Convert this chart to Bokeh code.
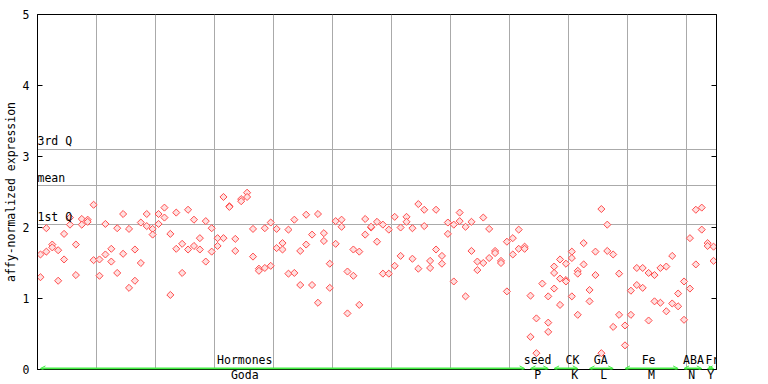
import math
from bokeh.plotting import figure
from bokeh.models import Range1d, FixedTicker, LinearAxis, Arrow, OpenHead
from bokeh.core.properties import value
from bokeh.embed import file_html
from bokeh.resources import INLINE

# ---- data: replicate expression values per sample, by treatment group ----
hormones = [
    [1.62, 1.30], [1.99, 1.66], [1.76, 1.72], [1.68, 1.25], [1.91, 1.55],
    [2.14, 2.04], [1.76, 1.33], [2.12, 2.04], [2.11, 2.08], [2.32, 1.54],
    [1.55, 1.32], [2.05, 1.62], [1.70, 1.52], [1.99, 1.36], [2.19, 1.63],
    [1.98, 1.15], [1.69, 1.25], [2.07, 1.50], [2.19, 2.02], [1.98, 1.90],
    [2.19, 2.05], [2.28, 2.14], [1.91, 1.05], [2.21, 1.70], [1.77, 1.36],
    [2.25, 1.69], [2.11, 1.74], [1.85, 1.69], [2.09, 1.52], [1.99, 1.66],
    [1.85, 1.74], [2.43, 1.85], [2.30, 2.29], [1.84, 1.67], [2.40, 2.37],
    [2.49, 2.43], [1.98, 1.59], [1.42, 1.39], [1.99, 1.43], [2.07, 1.46],
    [1.98, 1.71], [1.78, 1.69], [1.97, 1.35], [2.11, 1.36], [1.67, 1.19],
    [2.18, 1.76], [1.90, 1.19], [2.19, 0.94], [1.92, 1.81], [1.49, 1.15],
    [2.09, 1.77], [2.11, 2.01], [1.38, 0.79], [1.69, 1.32], [1.66, 0.91],
    [2.12, 1.90], [2.00, 2.01], [2.08, 1.80], [2.04, 1.35], [1.97, 1.35],
    [2.15, 1.46], [2.00, 1.60], [2.15, 2.08], [1.99, 1.56], [2.33, 1.42],
    [2.25, 2.02], [1.53, 1.43], [2.25, 1.69], [1.60, 1.49], [2.07, 1.91],
    [2.04, 1.24], [2.21, 2.09], [2.01, 1.03], [2.08, 1.67], [1.52, 1.40],
    [2.14, 1.50], [1.98, 1.57], [1.67, 1.64], [1.53, 1.50], [1.80, 1.10],
    [1.85, 1.62], [1.97, 1.70],
]
seed = [[1.73, 1.70], [1.04, 0.46], [0.72, 0.23], [1.21], [1.03, 0.66, 0.53]]
ck = [[1.45, 1.36, 1.14], [1.55, 1.28, 0.91], [1.49, 1.26, 1.24],
      [1.66, 1.57, 1.03], [1.39, 1.35, 0.77]]
ga = [[1.78, 1.48], [1.12, 0.96], [1.66, 1.33], [2.26, 0.23], [2.04, 1.67], [1.62, 0.60]]
fe = [[1.35, 0.77], [0.62, 0.34], [1.11, 0.77], [1.43, 1.19], [1.43, 1.15],
      [1.36, 0.69], [1.33, 0.96], [1.43, 0.94], [1.45, 0.82], [1.60, 0.93], [1.07, 0.89]]
aba = [[1.24, 0.70], [1.85, 1.14], [2.25, 1.48], [2.28, 1.97]]
fr = [[1.78, 1.74], [1.73, 1.53]]

group_names = ["Hormones", "seed", "CK", "GA", "Fe", "ABA", "Fr"]
group_codes = ["Goda", "P", "K", "L", "M", "N", "Y"]
group_name_x = [34.6, 84.2, 90.1, 94.9, 103.0, 110.6, 113.8]
group_code_x = [34.6, 84.2, 90.5, 95.4, 103.5, 110.3, 113.5]
span_start = [0, 83, 87, 93, 99, 109, 113]
span_end = [82, 86, 91, 97, 108, 112, 114]

quartile_values = [3.10, 2.585, 2.04]
quartile_labels = ["3rd Q", "mean", "1st Q"]
y_ticks = [0, 1, 2, 3, 4, 5]
x_grid = [9.5, 19.5, 29.5, 39.5, 49.5, 59.5, 69.5, 79.5, 89.5, 99.5, 109.5]

# ---- flatten samples ----
xs, ys = [], []
idx = 0
for grp in [hormones, seed, ck, ga, fe, aba, fr]:
    for reps in grp:
        for v in reps:
            xs.append(idx)
            ys.append(v)
        idx += 1
n_samples = idx

FONT = "DejaVu Sans Mono"
FS = "11.5px"
GREEN = "#44ee44"

p = figure(width=768, height=384, output_backend="svg", toolbar_location=None,
           x_range=Range1d(-0.5, n_samples - 0.5), y_range=Range1d(0, 5),
           min_border_left=37, min_border_right=52, min_border_top=14,
           min_border_bottom=15)
p.background_fill_color = "white"
p.border_fill_color = "white"
p.outline_line_color = "black"
p.outline_line_width = 1

# y axis (left)
ya = p.yaxis[0]
ya.ticker = FixedTicker(ticks=y_ticks)
ya.major_tick_in = 5
ya.major_tick_out = 0
ya.minor_tick_line_color = None
ya.major_label_standoff = 8
ya.major_label_text_font = FONT
ya.major_label_text_font_size = FS
ya.major_label_text_color = "black"
ya.axis_line_color = "black"
ya.major_tick_line_color = "black"
ya.axis_label = "affy-normalized expression"
ya.axis_label_standoff = 2
ya.axis_label_text_font = FONT
ya.axis_label_text_font_size = FS
ya.axis_label_text_font_style = "normal"
ya.axis_label_text_color = "black"

# right axis, ticks only
ra = LinearAxis(ticker=FixedTicker(ticks=y_ticks), major_tick_in=5, major_tick_out=0,
                minor_tick_line_color=None, major_label_text_alpha=0,
                major_label_text_font_size=FS, axis_line_color="black")
p.add_layout(ra, "right")

# x axis: group codes below
xa = p.xaxis[0]
xa.ticker = FixedTicker(ticks=group_code_x)
xa.major_label_overrides = {x: c for x, c in zip(group_code_x, group_codes)}
xa.major_tick_in = 0
xa.major_tick_out = 0
xa.minor_tick_line_color = None
xa.major_label_standoff = -2
xa.major_label_text_font = FONT
xa.major_label_text_font_size = FS
xa.major_label_text_line_height = 1.0
xa.major_label_text_color = "black"
xa.axis_line_color = "black"

# grids
p.xgrid.ticker = FixedTicker(ticks=x_grid)
p.xgrid.grid_line_color = "#aaaaaa"
p.ygrid.ticker = FixedTicker(ticks=quartile_values)
p.ygrid.grid_line_color = "#aaaaaa"

# points
p.scatter(xs, ys, marker="square", angle=math.pi / 4, size=5,
          line_color="#ff4c4c", line_width=1, fill_color="#ffe0e0")

# quartile labels
p.text(x=[-0.5] * len(quartile_values), y=quartile_values, text=quartile_labels,
       text_font=value(FONT), text_font_size=FS, text_align="left",
       text_baseline="bottom", y_offset=-1, text_color="black")

# group names above axis
p.text(x=group_name_x, y=[0] * len(group_names), text=group_names,
       text_font=value(FONT), text_font_size=FS, text_align="center",
       text_baseline="bottom", y_offset=-3, text_color="black")

# group spans (green arrows)
for s, e in zip(span_start, span_end):
    p.add_layout(Arrow(start=OpenHead(size=5, line_color=GREEN, line_width=1),
                       end=OpenHead(size=5, line_color=GREEN, line_width=1),
                       x_start=s, y_start=0.015, x_end=e, y_end=0.015,
                       line_color=GREEN, line_width=2))

open("out.html", "w").write(file_html(p, INLINE))
